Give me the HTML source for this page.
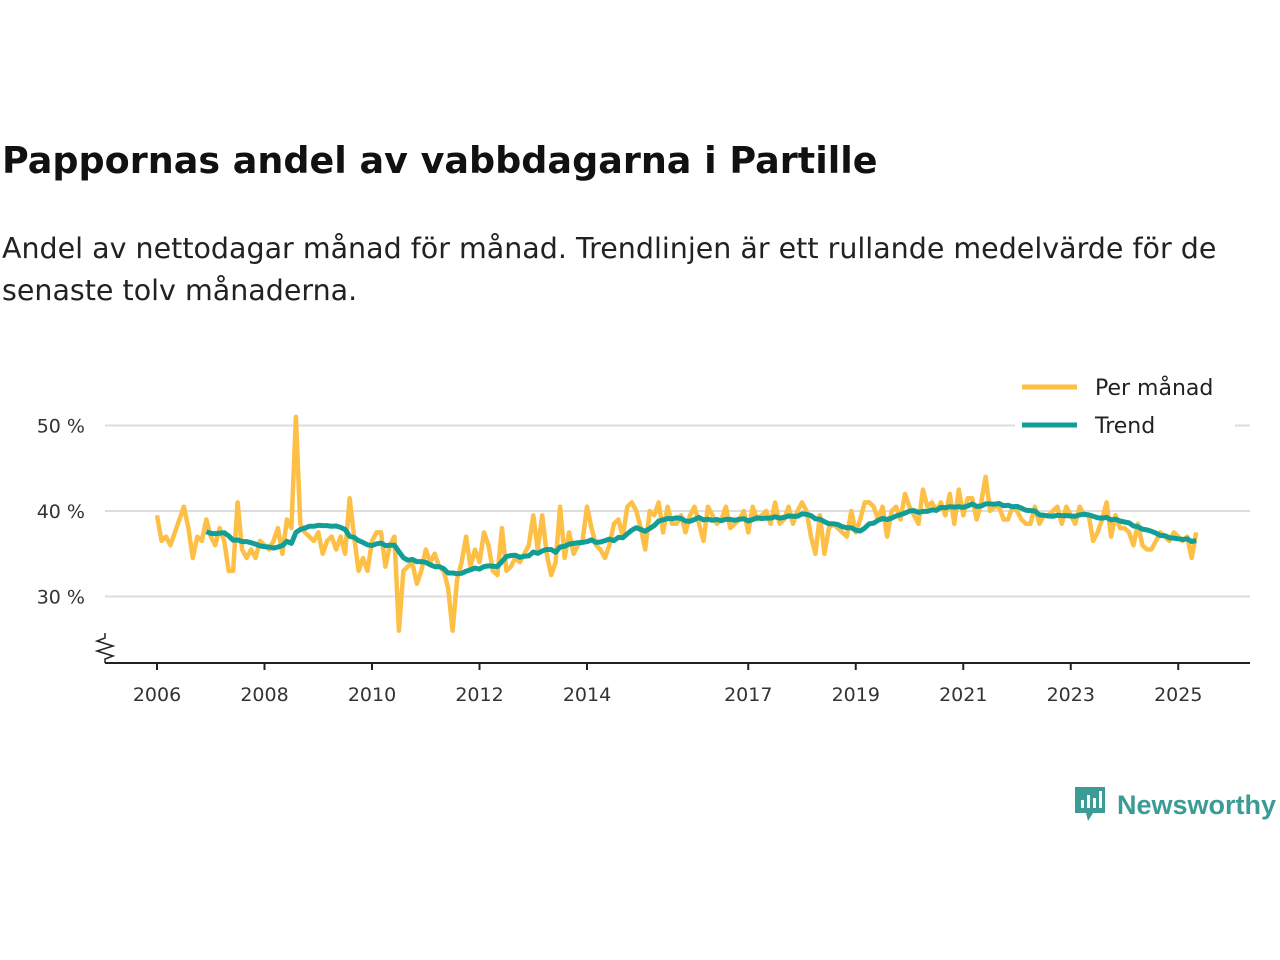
<!DOCTYPE html>
<html><head><meta charset="utf-8"><style>
body{margin:0;width:1280px;height:960px;background:#fff;font-family:"DejaVu Sans","Liberation Sans",sans-serif;overflow:hidden;position:relative}
h1{position:absolute;left:2px;top:139px;margin:0;font-size:36.5px;font-weight:bold;color:#111;white-space:nowrap}
p{position:absolute;left:2px;top:228px;margin:0;font-size:28.5px;line-height:42px;color:#222;width:1260px}
</style></head><body>
<h1>Pappornas andel av vabbdagarna i Partille</h1>
<p>Andel av nettodagar månad för månad. Trendlinjen är ett rullande medelvärde för de senaste tolv månaderna.</p>
<svg id="chart" width="1280" height="960" style="position:absolute;left:0;top:0;font-family:'DejaVu Sans',sans-serif"></svg>
<div style="position:absolute;left:1073px;top:785px;display:flex;align-items:center;color:#3a9c94;font-size:27px;font-weight:bold;font-family:'Liberation Sans',sans-serif">
<svg width="34" height="40" viewBox="0 0 34 40"><path d="M2 2h30v26H20l-5 8-2-8H2z" fill="#3a9c94"/><rect x="8" y="15" width="3" height="8" fill="#fff"/><rect x="14" y="10" width="3" height="13" fill="#fff"/><rect x="20" y="13" width="3" height="10" fill="#fff"/><rect x="26" y="6" width="3" height="17" fill="#fff"/></svg>
<span style="margin-left:10px">Newsworthy</span></div>
<script>
const startYear=2006;
const monthly=[
39.5,36.5,37,36,37.5,39,40.5,38,34.5,37,36.5,39,
37,36,38,36.5,33,33,41,35.5,34.5,35.5,34.5,36.5,
36,35.5,36.5,38,35,39,38,51,38.5,37.5,37,36.5,
37.5,35,36.5,37,35.5,37,35,41.5,37,33,34.5,33,
36.5,37.5,37.5,33.5,36,37,26,33,33.5,34,31.5,33,
35.5,34,35,33.5,33,31,26,32,34,37,33.5,35.5,
34,37.5,36,33,32.5,38,33,33.5,34.5,34,35,36,
39.5,35.5,39.5,35,32.5,34,40.5,34.5,37.5,35,36,36.5,
40.5,38,36,35.5,34.5,36,38.5,39,37,40.5,41,40,
38,35.5,40,39.5,41,37.5,40.5,38.5,38.5,39.5,37.5,39.5,
40.5,38.5,36.5,40.5,39.5,38.5,39,40.5,38,38.5,39,40,
37.5,40.5,39,39.5,40,38.5,41,38.5,39,40.5,38.5,40,
41,40,37,35,39.5,35,38,38.5,38,37.5,37,40,
37.5,39,41,41,40.5,39,40.5,37,40,40.5,39,42,
40.5,39.5,38.5,42.5,40.5,41,40,41,39.5,42,38.5,42.5,
39.5,41.5,41.5,39,41,44,40,40.5,40.5,39,39,40.5,
40,39,38.5,38.5,40.5,38.5,39.5,39.5,40,40.5,38.5,40.5,
39.5,38.5,40.5,39.5,39.5,36.5,37.5,39,41,37,39.5,38,
38,37.5,36,38.5,36,35.5,35.5,36.5,37.5,37,36.5,37.5,
37,36.5,37,34.5,37.5];
const tickYears=[2006,2008,2010,2012,2014,2017,2019,2021,2023,2025];
const yTicks=[30,40,50];
const svg=document.getElementById('chart');
const NS='http://www.w3.org/2000/svg';
const X=t=>157+(t-startYear)*53.75;
const Y=v=>511-(v-40)*8.55;
function el(tag,attrs){const e=document.createElementNS(NS,tag);for(const k in attrs)e.setAttribute(k,attrs[k]);svg.appendChild(e);return e;}
yTicks.forEach(v=>{
 const g=el('line',{x1:105,x2:1250,y1:Y(v),y2:Y(v),stroke:'#ddd','stroke-width':2});
 
 
 const t=el('text',{x:85,y:Y(v)+7,'text-anchor':'end','font-size':19,fill:'#333'});t.textContent=v+' %';
 
 
});
const ax=el('line',{x1:105,x2:1250,y1:663,y2:663,stroke:'#222','stroke-width':2});


const zz=el('polyline',{points:'105,633 105,638 97,641 113,646 97,651 113,656 105,659 105,663',fill:'none',stroke:'#222','stroke-width':1.5});


tickYears.forEach(yr=>{
 const l=el('line',{x1:X(yr),x2:X(yr),y1:663,y2:670,stroke:'#222','stroke-width':2});
 
 
 const t=el('text',{x:X(yr),y:701,'text-anchor':'middle','font-size':19,fill:'#333'});t.textContent=yr;
 
 
});
const mp=monthly.map((v,i)=>X(startYear+i/12).toFixed(1)+','+Y(v).toFixed(1)).join(' ');
const ml=el('polyline',{points:mp,fill:'none',stroke:'#fdbf45','stroke-width':4.5,'stroke-linejoin':'round'});


const trend=[];
for(let i=11;i<monthly.length;i++){let s=0;for(let j=i-11;j<=i;j++)s+=monthly[j];trend.push([i,s/12]);}
const tp=trend.map(([i,v])=>X(startYear+i/12).toFixed(1)+','+Y(v).toFixed(1)).join(' ');
const tl=el('polyline',{points:tp,fill:'none',stroke:'#129e97','stroke-width':5,'stroke-linejoin':'round'});


const lb=el('rect',{x:1015,y:372,width:220,height:70,fill:'#fff'});


[['Per månad','#fdbf45',387],['Trend','#129e97',425]].forEach(([n,c,y])=>{
 const l=el('line',{x1:1022,x2:1077,y1:y,y2:y,stroke:c,'stroke-width':5});
 
 
 const t=el('text',{x:1095,y:y+8,'font-size':22,fill:'#222'});t.textContent=n;
 
 
});
</script>
</body></html>
